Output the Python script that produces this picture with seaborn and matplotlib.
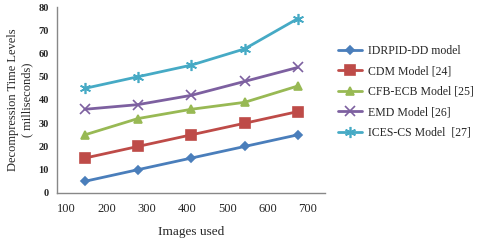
import matplotlib
matplotlib.use("Agg")
import matplotlib.pyplot as plt
import seaborn as sns
import pandas as pd

images_used = [145, 277, 410, 543, 675]
models = ["IDRPID-DD model", "CDM Model [24]", "CFB-ECB Model [25]",
          "EMD Model [26]", "ICES-CS Model  [27]"]
idrpid = [5, 10, 15, 20, 25]
cdm = [15, 20, 25, 30, 35]
cfb_ecb = [25, 32, 36, 39, 46]
emd = [36, 38, 42, 48, 54]
ices_cs = [45, 50, 55, 62, 75]
x_ticks = [100, 200, 300, 400, 500, 600, 700]
y_ticks = [0, 10, 20, 30, 40, 50, 60, 70, 80]

series = [idrpid, cdm, cfb_ecb, emd, ices_cs]
df = pd.DataFrame({
    "images": images_used * len(models),
    "time": [v for s in series for v in s],
    "model": [m for m in models for _ in images_used],
})

colors = ["#4A7EBB", "#BE4B48", "#98B954", "#7D60A0", "#46AAC5"]
markers = ["D", "s", "^", "x", (6, 2, 0)]
sizes = [4, 7, 6, 7, 8]

sns.set_style("white")
plt.rcParams["font.family"] = ["Liberation Serif", "DejaVu Serif"]

fig = plt.figure(figsize=(4.8, 2.43), dpi=100)
ax = fig.add_axes([0.119, 0.206, 0.558, 0.765])

for m, c, mk, sz in zip(models, colors, markers, sizes):
    sub = df[df["model"] == m]
    sns.lineplot(data=sub, x="images", y="time", ax=ax, color=c, marker=mk,
                 markersize=sz, markeredgecolor=c, markeredgewidth=1.2,
                 linewidth=2, label=m)

ax.set_xlim(76, 743)
ax.set_ylim(0, 80)
ax.set_xticks(x_ticks)
ax.set_yticks(y_ticks)
ax.tick_params(axis="x", labelsize=9, length=0, pad=7)
ax.tick_params(axis="y", labelsize=7.5, length=3, color="#888888", pad=3)
for lab in ax.get_yticklabels():
    lab.set_fontweight("bold")
ax.set_xlabel("Images used", fontsize=9.5, labelpad=8)
ax.set_ylabel("Decompression Time Levels\n( milliseconds)", fontsize=9, labelpad=4)
for side in ["top", "right"]:
    ax.spines[side].set_visible(False)
for side in ["left", "bottom"]:
    ax.spines[side].set_color("#888888")
    ax.spines[side].set_linewidth(1)

ax.legend(loc="upper left", bbox_to_anchor=(0.695, 0.835), bbox_transform=fig.transFigure,
          frameon=False, fontsize=8.5, handlelength=2.0, labelspacing=0.72,
          handletextpad=0.5, borderaxespad=0)

fig.savefig("out.png", dpi=100)
